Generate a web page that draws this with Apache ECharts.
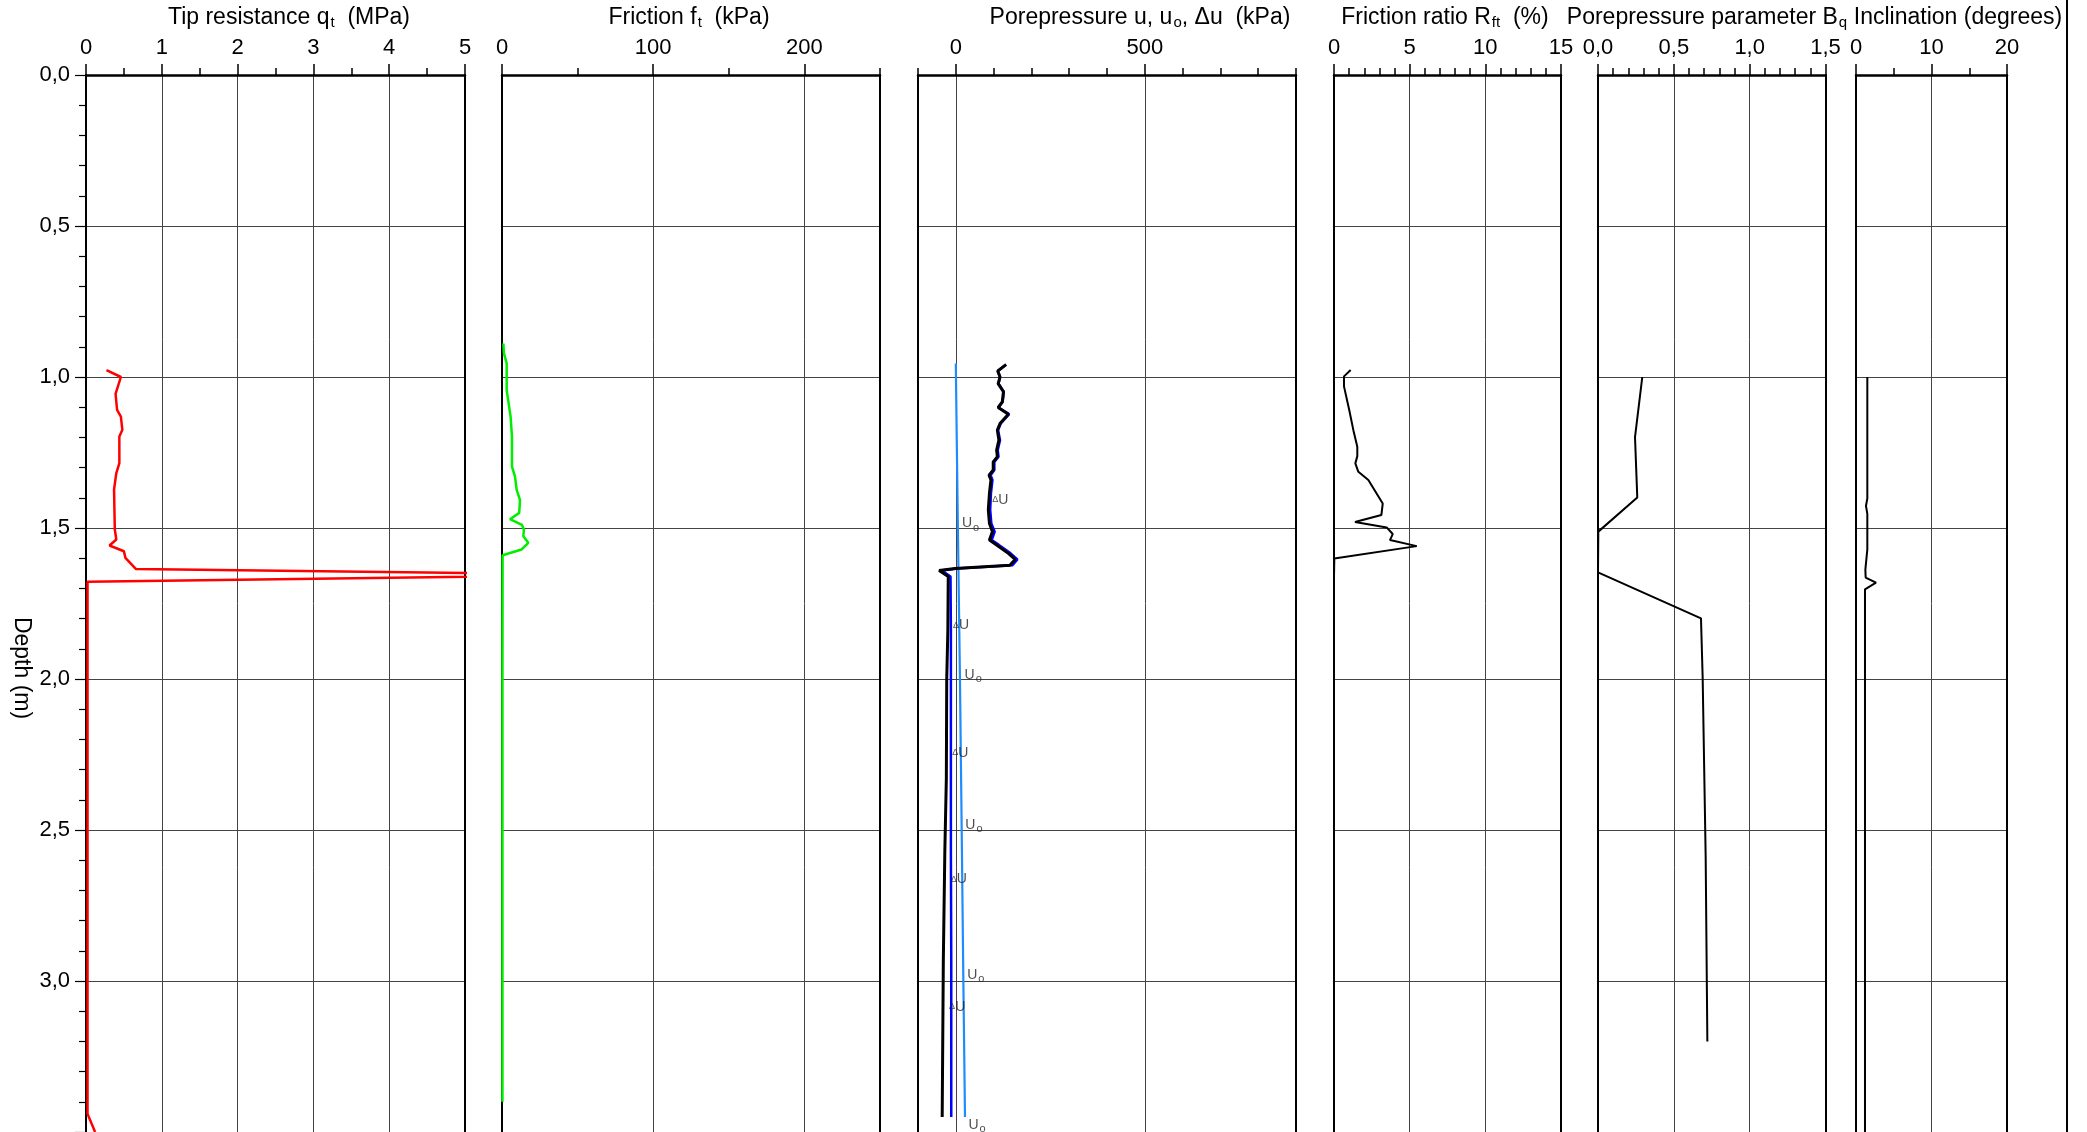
<!DOCTYPE html>
<html><head><meta charset="utf-8">
<script src="https://cdn.jsdelivr.net/npm/echarts@6/dist/echarts.min.js"></script>
<style>html,body{margin:0;padding:0;background:#fff}#c{width:2087px;height:1132px}</style>
</head><body><div id="c"></div>
<script>
// ---------------- data ----------------
// Tip resistance qt (MPa)
const qtDepth = [0.977, 1.000, 1.056, 1.109, 1.131, 1.175, 1.197, 1.285, 1.318, 1.373, 1.505, 1.538, 1.558, 1.577, 1.599, 1.636, 1.655, 1.678, 2.0, 2.5, 3.0, 3.44, 3.50];
const qtValue = [0.27, 0.46, 0.39, 0.41, 0.46, 0.48, 0.44, 0.44, 0.40, 0.37, 0.38, 0.40, 0.31, 0.50, 0.52, 0.66, 7.0, 0.02, 0.02, 0.02, 0.02, 0.02, 0.12];
// Friction ft (kPa)
const ftDepth = [0.889, 0.922, 0.955, 1.044, 1.132, 1.198, 1.297, 1.330, 1.374, 1.407, 1.450, 1.471, 1.490, 1.505, 1.527, 1.549, 1.571, 1.590, 2.0, 2.5, 3.0, 3.40];
const ftValue = [0.9, 1.3, 3.1, 3.1, 5.7, 6.6, 6.6, 8.6, 9.7, 11.9, 11.4, 5.3, 13.2, 14.5, 14.1, 17.4, 13.0, 0.4, 0.3, 0.3, 0.3, 0.3];
// Porepressure (kPa): delta u (black), u (blue), u0 (light blue)
const uDepth = [0.959, 0.980, 1.000, 1.022, 1.049, 1.082, 1.101, 1.123, 1.154, 1.176, 1.209, 1.242, 1.264, 1.281, 1.308, 1.325, 1.341, 1.385, 1.440, 1.485, 1.512, 1.540, 1.556, 1.584, 1.604, 1.623, 1.634, 1.641, 1.661, 1.837, 2.003, 2.329, 2.570, 2.932, 3.450];
const duValue = [133, 111, 117, 112, 126, 123, 112, 139, 117, 110, 114, 108, 110, 99, 99, 88, 93, 89, 86, 89, 97, 89, 108, 139, 157, 143, -2, -44, -20, -21, -24, -25, -29, -33, -36];
const uValue = [133, 111, 117, 113, 127, 124, 113, 141, 119, 112, 117, 111, 113, 102, 102, 92, 97, 93, 91, 94, 103, 95, 114, 145, 163, 150, 4, -37, -14, -13, -13, -13, -13, -12, -12];
const u0Depth = [0.955, 1.5, 2.0, 2.5, 3.0, 3.45];
const u0Value = [0, 5.5, 11, 15.6, 20, 24.3];
const duLabelDepth = [1.407, 1.823, 2.245, 2.664, 3.086];
const duLabelValue = [95, -9, -11, -15, -19];
const u0LabelDepth = [1.485, 1.986, 2.483, 2.980, 3.478];
const u0LabelValue = [15, 22, 24, 29, 32];
// Friction ratio Rft (%)
const rfDepth = [0.977, 0.998, 1.031, 1.110, 1.176, 1.231, 1.262, 1.286, 1.314, 1.341, 1.419, 1.457, 1.480, 1.498, 1.520, 1.540, 1.560, 1.601, 1.661];
const rfValue = [1.10, 0.66, 0.66, 1.01, 1.28, 1.54, 1.54, 1.41, 1.61, 2.27, 3.22, 3.13, 1.39, 3.48, 3.88, 3.70, 5.47, 0.02, 0];
// Porepressure parameter Bq
const bqDepth = [1.000, 1.199, 1.399, 1.512, 1.647, 1.799, 1.993, 2.592, 3.200];
const bqValue = [0.292, 0.244, 0.259, 0.002, 0, 0.679, 0.690, 0.710, 0.721];
// Inclination (degrees)
const inDepth = [1.0, 1.402, 1.427, 1.453, 1.571, 1.638, 1.664, 1.681, 1.703, 3.5];
const inValue = [1.5, 1.5, 1.32, 1.5, 1.5, 1.24, 1.28, 2.65, 1.19, 1.19];

// tick values
const depthLabels = [0, 0.5, 1.0, 1.5, 2.0, 2.5, 3.0];
const qtTicks = [0, 1, 2, 3, 4, 5];
const qtMinor = [0.5, 1.5, 2.5, 3.5, 4.5];
const ftTicks = [0, 100, 200];
const ftMinor = [50, 150, 250];
const uTicks = [0, 500];
const uMinor = [-100, 100, 200, 300, 400, 600, 700, 800, 900];
const rfTicks = [0, 5, 10, 15];
const rfMinor = [1, 2, 3, 4, 6, 7, 8, 9, 11, 12, 13, 14];
const bqTicks = [0, 0.5, 1.0, 1.5];
const bqMinor = [0.1, 0.2, 0.3, 0.4, 0.6, 0.7, 0.8, 0.9, 1.1, 1.2, 1.3, 1.4];
const inTicks = [0, 10, 20];
const inMinor = [5, 15];

// ---------------- layout ----------------
const FONT = 'Liberation Sans';
const comma = v => (Math.round(v * 10) / 10).toFixed(1).replace('.', ',');
const panels = [
  {left: 86, width: 379, min: 0, max: 5, major: qtTicks, minor: qtMinor, fmt: v => String(v)},
  {left: 502, width: 378, min: 0, max: 250, major: ftTicks, minor: ftMinor, fmt: v => String(v)},
  {left: 918, width: 378, min: -100, max: 900, major: uTicks, minor: uMinor, fmt: v => String(v)},
  {left: 1334, width: 227, min: 0, max: 15, major: rfTicks, minor: rfMinor, fmt: v => String(v)},
  {left: 1598, width: 227.5, min: 0, max: 1.5, major: bqTicks, minor: bqMinor, fmt: comma},
  {left: 1856, width: 151, min: 0, max: 20, major: inTicks, minor: inMinor, fmt: v => String(v)}
];
const TOP = 75;
const grids = [], xAxes = [], yAxes = [];
panels.forEach((p, i) => {
  grids.push({left: p.left, top: TOP, width: p.width, bottom: 0, containLabel: false, outerBoundsMode: 'none'});
  xAxes.push({
    gridIndex: i, type: 'value', position: 'top', min: p.min, max: p.max,
    axisLine: {show: true, onZero: false, lineStyle: {color: '#000', width: 2.5}},
    axisTick: {show: true, customValues: p.major, length: 11, lineStyle: {color: '#000', width: 1.5}},
    axisLabel: {show: true, customValues: p.major, formatter: p.fmt, fontSize: 22, fontFamily: FONT, color: '#000', margin: 16},
    splitLine: {show: true, lineStyle: {color: '#444', width: 1}}
  });
  xAxes.push({
    gridIndex: i, type: 'value', position: 'top', min: p.min, max: p.max,
    axisLine: {show: false},
    axisTick: {show: true, customValues: p.minor, length: 7, lineStyle: {color: '#000', width: 1.5}},
    axisLabel: {show: false},
    splitLine: {show: false}
  });
  yAxes.push({
    gridIndex: i, type: 'value', inverse: true, min: 0, max: 3.5, interval: 0.5, position: 'left',
    axisLine: {show: true, onZero: false, lineStyle: {color: '#000', width: 2}},
    axisTick: {show: i === 0, length: 11, lineStyle: {color: '#000', width: 1.2}},
    minorTick: {show: i === 0, splitNumber: 5, length: 7, lineStyle: {color: '#000', width: 1.2}},
    axisLabel: {show: i === 0, customValues: depthLabels, formatter: comma, fontSize: 22, fontFamily: FONT, color: '#000', margin: 16},
    splitLine: {show: true, lineStyle: {color: '#444', width: 1}}
  });
  yAxes.push({
    gridIndex: i, type: 'value', inverse: true, min: 0, max: 3.5, position: 'right',
    axisLine: {show: true, onZero: false, lineStyle: {color: '#000', width: 2}},
    axisTick: {show: false}, axisLabel: {show: false}, splitLine: {show: false}
  });
});

const pairs = (vals, depths) => vals.map((v, i) => [v, depths[i]]);
const lineSeries = (panel, vals, depths, color, width, z) => ({
  type: 'line', xAxisIndex: panel * 2, yAxisIndex: panel * 2, data: pairs(vals, depths),
  symbol: 'none', showSymbol: false, clip: true, z: z || 2,
  lineStyle: {color: color, width: width}
});

const series = [
  lineSeries(0, qtValue, qtDepth, '#ff0000', 2.5),
  lineSeries(1, ftValue, ftDepth, '#00ee00', 2.5),
  lineSeries(2, u0Value, u0Depth, '#1e8cff', 2.2, 2),
  lineSeries(2, uValue, uDepth, '#0000ff', 2.5, 3),
  lineSeries(2, duValue, uDepth, '#000000', 3, 4),
  lineSeries(3, rfValue, rfDepth, '#000000', 2),
  lineSeries(4, bqValue, bqDepth, '#000000', 2),
  lineSeries(5, inValue, inDepth, '#000000', 2),
  {
    type: 'scatter', xAxisIndex: 4, yAxisIndex: 4, data: pairs(duLabelValue, duLabelDepth),
    symbolSize: 1, itemStyle: {color: 'rgba(0,0,0,0)'}, z: 5,
    label: {show: true, position: 'right', distance: 0, formatter: '{a|\u0394}{b|U}',
      rich: {a: {fontSize: 9, fontFamily: FONT, color: '#222'}, b: {fontSize: 14, fontFamily: FONT, color: '#222'}}}
  },
  {
    type: 'scatter', xAxisIndex: 4, yAxisIndex: 4, data: pairs(u0LabelValue, u0LabelDepth),
    symbolSize: 1, itemStyle: {color: 'rgba(0,0,0,0)'}, z: 5,
    label: {show: true, position: 'right', distance: 0, formatter: '{b|U}{s|o}',
      rich: {b: {fontSize: 14, fontFamily: FONT, color: '#222'}, s: {fontSize: 11, fontFamily: FONT, color: '#222', verticalAlign: 'bottom', padding: [8, 0, 0, 1]}}}
  }
];

const subStyle = {font: '15px "Liberation Sans"', fill: '#000', verticalAlign: 'bottom', padding: [11, 0, 0, 1]};
const titleText = (x, text) => ({
  type: 'text', x: x, y: 17.5, silent: true,
  style: {text: text, font: '23px "Liberation Sans"', fill: '#000', align: 'center', verticalAlign: 'middle', rich: {s: subStyle}}
});

const graphics = [
  titleText(289, 'Tip resistance q{s|t}  (MPa)'),
  titleText(689, 'Friction f{s|t}  (kPa)'),
  titleText(1140, 'Porepressure u, u{s|o}, \u0394u  (kPa)'),
  titleText(1445, 'Friction ratio R{s|ft}  (%)'),
  titleText(1707, 'Porepressure parameter B{s|q}'),
  titleText(1958, 'Inclination (degrees)'),
  {type: 'text', x: 21, y: 668, rotation: -Math.PI / 2, silent: true,
    style: {text: 'Depth (m)', font: '23px "Liberation Sans"', fill: '#000', align: 'center', verticalAlign: 'middle'}},
  {type: 'line', silent: true, shape: {x1: 2067, y1: 0, x2: 2067, y2: 1132}, style: {stroke: '#000', lineWidth: 2}}
];

const chart = echarts.init(document.getElementById('c'), null, {renderer: 'canvas'});
chart.setOption({
  animation: false,
  backgroundColor: '#fff',
  textStyle: {fontFamily: FONT},
  grid: grids, xAxis: xAxes, yAxis: yAxes, series: series, graphic: graphics
});
</script></body></html>
